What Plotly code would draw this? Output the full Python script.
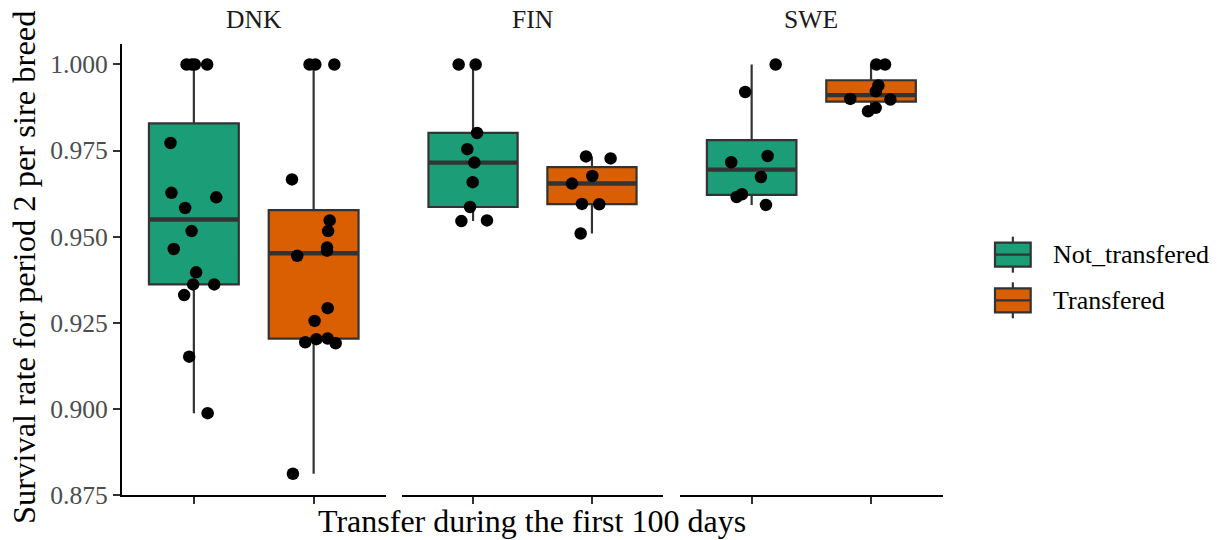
import numpy as np
import plotly.graph_objects as go

# ---- data: survival rate for period 2 per sire breed ----
countries = ["DNK", "FIN", "SWE"]
groups = ["Not_transfered", "Transfered"]

dnk_not_vals = [1.0, 1.0, 1.0, 1.0, 0.9772, 0.9627, 0.9614, 0.9583, 0.9516,
                0.9464, 0.9396, 0.9361, 0.9361, 0.9330, 0.9151, 0.8987]
dnk_not_jit = [-0.061, -0.017, 0.008, 0.111, -0.195, -0.187, 0.187, -0.073,
               -0.019, -0.168, 0.019, -0.006, 0.170, -0.081, -0.039, 0.115]

dnk_tr_vals = [1.0, 1.0, 1.0, 0.9666, 0.9547, 0.9516, 0.9468, 0.9459, 0.9444,
               0.9292, 0.9255, 0.9204, 0.9202, 0.9193, 0.9190, 0.8811]
dnk_tr_jit = [-0.034, 0.014, 0.173, -0.181, 0.134, 0.121, 0.112, 0.112,
              -0.137, 0.117, 0.008, 0.117, 0.023, -0.070, 0.184, -0.173]

fin_not_vals = [1.0, 1.0, 0.9801, 0.9754, 0.9715, 0.9658, 0.9586, 0.9545, 0.9547]
fin_not_jit = [-0.121, 0.022, 0.034, -0.048, 0.011, -0.003, -0.025, -0.098, 0.117]

fin_tr_vals = [0.9733, 0.9727, 0.9676, 0.9654, 0.9595, 0.9594, 0.9509]
fin_tr_jit = [-0.050, 0.157, 0.003, -0.168, -0.084, 0.061, -0.095]

swe_not_vals = [1.0, 0.9920, 0.9734, 0.9716, 0.9673, 0.9623, 0.9615, 0.9592]
swe_not_jit = [0.201, -0.054, 0.134, -0.171, 0.078, -0.081, -0.126, 0.120]

swe_tr_vals = [1.0, 1.0, 0.9939, 0.9922, 0.9900, 0.9898, 0.9874, 0.9864]
swe_tr_jit = [0.044, 0.117, 0.061, 0.040, -0.174, 0.162, 0.039, -0.025]

y_ticks = [0.875, 0.900, 0.925, 0.950, 0.975, 1.000]

series = {
    ("DNK", "Not_transfered"): (dnk_not_vals, dnk_not_jit),
    ("DNK", "Transfered"): (dnk_tr_vals, dnk_tr_jit),
    ("FIN", "Not_transfered"): (fin_not_vals, fin_not_jit),
    ("FIN", "Transfered"): (fin_tr_vals, fin_tr_jit),
    ("SWE", "Not_transfered"): (swe_not_vals, swe_not_jit),
    ("SWE", "Transfered"): (swe_tr_vals, swe_tr_jit),
}

# ---- styling ----
W, H = 1220, 540
M_TOP, M_BOT = 44, 45
FILL = {"Not_transfered": "#1B9E77", "Transfered": "#D95F02"}
EDGE = "#333333"
FONT = "Liberation Serif, Times New Roman, serif"
BOX_W = 0.75
panel_px = {"DNK": (122, 385.5), "FIN": (401.7, 663.3), "SWE": (680, 942.7)}
xref_of = {"DNK": "x", "FIN": "x2", "SWE": "x3"}


def px_x(p):
    return p / W


def px_y(p):
    return (H - M_BOT - p) / (H - M_TOP - M_BOT)


def box_stats(vals):
    v = np.asarray(vals, dtype=float)
    q1, med, q3 = np.percentile(v, [25, 50, 75])
    iqr = q3 - q1
    lo = v[v >= q1 - 1.5 * iqr].min()
    hi = v[v <= q3 + 1.5 * iqr].max()
    return q1, med, q3, lo, hi


fig = go.Figure()

# boxes
for (c, g), (vals, jit) in series.items():
    pos = groups.index(g) + 1
    q1, med, q3, lo, hi = box_stats(vals)
    fig.add_trace(go.Box(
        x=[pos], q1=[q1], median=[med], q3=[q3],
        lowerfence=[lo], upperfence=[hi],
        width=BOX_W, whiskerwidth=0, boxpoints=False,
        fillcolor=FILL[g], line=dict(color=EDGE, width=2.2),
        xaxis=xref_of[c], yaxis="y", showlegend=False, hoverinfo="skip",
    ))

# thicker median bars
for (c, g), (vals, jit) in series.items():
    pos = groups.index(g) + 1
    med = float(np.median(vals))
    fig.add_trace(go.Scatter(
        x=[pos - BOX_W / 2, pos + BOX_W / 2], y=[med, med], mode="lines",
        line=dict(color=EDGE, width=4.4),
        xaxis=xref_of[c], yaxis="y", showlegend=False, hoverinfo="skip",
    ))

# jittered points
for (c, g), (vals, jit) in series.items():
    pos = groups.index(g) + 1
    fig.add_trace(go.Scatter(
        x=[pos + j for j in jit], y=vals, mode="markers",
        marker=dict(color="black", size=12.5, line=dict(width=0)),
        xaxis=xref_of[c], yaxis="y", showlegend=False, hoverinfo="skip",
    ))

xaxis_common = dict(
    range=[0.4, 2.6], showgrid=False, zeroline=False,
    showline=True, linecolor="black", linewidth=2,
    ticks="outside", tickvals=[1, 2], ticklen=7, tickwidth=2, tickcolor=EDGE,
    showticklabels=False, anchor="y", fixedrange=True,
)
layout_axes = {}
for c in countries:
    key = "xaxis" if c == "DNK" else "xaxis" + xref_of[c][1:]
    a0, a1 = panel_px[c]
    layout_axes[key] = dict(xaxis_common, domain=[px_x(a0), px_x(a1)])

fig.update_layout(
    width=W, height=H,
    margin=dict(l=0, r=0, t=M_TOP, b=M_BOT, pad=0),
    paper_bgcolor="white", plot_bgcolor="white",
    boxmode="overlay", showlegend=False,
    font=dict(family=FONT, color="black"),
    yaxis=dict(
        range=[0.87492, 1.00595], tickvals=y_ticks, tickformat=".3f",
        showgrid=False, zeroline=False,
        showline=True, linecolor="black", linewidth=2,
        ticks="outside", ticklen=7, tickwidth=2, tickcolor=EDGE,
        tickfont=dict(family=FONT, size=25.6, color="#4D4D4D"),
        anchor="x", fixedrange=True,
    ),
    **layout_axes,
)

annotations = []
# facet strip labels
for c in countries:
    a0, a1 = panel_px[c]
    annotations.append(dict(
        text=c, x=px_x((a0 + a1) / 2), y=px_y(19.7), xref="paper", yref="paper",
        xanchor="center", yanchor="middle", showarrow=False,
        font=dict(family=FONT, size=25.6, color="#1A1A1A"),
    ))
# axis titles
annotations.append(dict(
    text="Transfer during the first 100 days",
    x=px_x((panel_px["DNK"][0] + panel_px["SWE"][1]) / 2), y=px_y(521),
    xref="paper", yref="paper", xanchor="center", yanchor="middle",
    showarrow=False, font=dict(family=FONT, size=32, color="black"),
))
annotations.append(dict(
    text="Survival rate for period 2 per sire breed",
    x=px_x(24), y=px_y(268), xref="paper", yref="paper",
    xanchor="center", yanchor="middle", textangle=-90,
    showarrow=False, font=dict(family=FONT, size=32.5, color="black"),
))

# legend: boxplot key glyphs with labels
shapes = []
key_x0, key_x1 = 995, 1030.7
for i, g in enumerate(groups):
    yc = 254.7 + i * 45.6
    xm = (key_x0 + key_x1) / 2
    shapes.append(dict(type="line", xref="paper", yref="paper",
                       x0=px_x(xm), x1=px_x(xm), y0=px_y(yc - 18), y1=px_y(yc + 18),
                       line=dict(color=EDGE, width=2.2), layer="above"))
    shapes.append(dict(type="rect", xref="paper", yref="paper",
                       x0=px_x(key_x0), x1=px_x(key_x1), y0=px_y(yc - 12), y1=px_y(yc + 12),
                       fillcolor=FILL[g], line=dict(color=EDGE, width=2.2), layer="above"))
    shapes.append(dict(type="line", xref="paper", yref="paper",
                       x0=px_x(key_x0), x1=px_x(key_x1), y0=px_y(yc), y1=px_y(yc),
                       line=dict(color=EDGE, width=2.2), layer="above"))
    annotations.append(dict(
        text=g, x=px_x(1050.5), y=px_y(yc), xref="paper", yref="paper",
        xanchor="left", yanchor="middle", showarrow=False,
        font=dict(family=FONT, size=26, color="black"),
    ))

fig.update_layout(annotations=annotations, shapes=shapes)

fig.write_html("out.html")
